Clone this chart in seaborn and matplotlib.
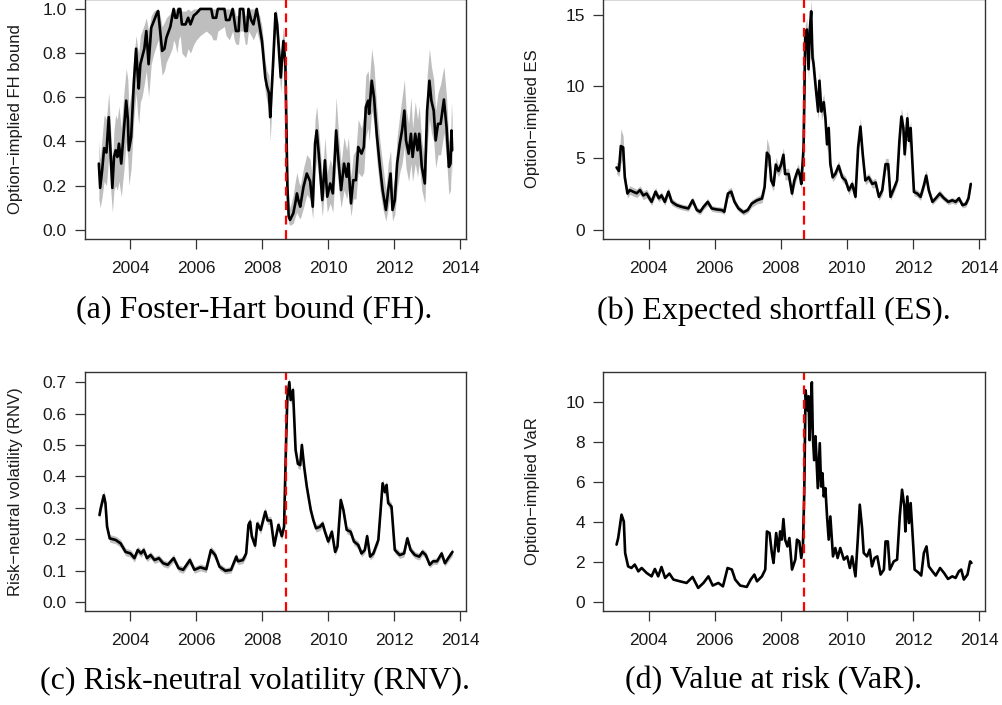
import matplotlib
matplotlib.use("Agg")
import matplotlib.pyplot as plt
import seaborn as sns

# ---- data (decimal years) ----
lehman = 2008.71

t_fh = [
    2003.04, 2003.08, 2003.14, 2003.20, 2003.27, 2003.34, 2003.40, 2003.45, 2003.50, 2003.55,
    2003.60, 2003.65, 2003.72, 2003.80, 2003.87, 2003.92, 2003.95, 2004.02, 2004.10, 2004.17,
    2004.22, 2004.25, 2004.30, 2004.35, 2004.42, 2004.48, 2004.55, 2004.63, 2004.71, 2004.80,
    2004.84, 2004.90, 2004.96, 2005.03, 2005.09, 2005.21, 2005.26, 2005.31, 2005.36, 2005.41,
    2005.46, 2005.51, 2005.56, 2005.67, 2005.75, 2005.82, 2005.92, 2006.00, 2006.12, 2006.30,
    2006.45, 2006.50, 2006.60, 2006.65, 2006.85, 2006.90, 2007.00, 2007.10, 2007.15, 2007.20,
    2007.28, 2007.32, 2007.42, 2007.48, 2007.53, 2007.58, 2007.66, 2007.73, 2007.83, 2007.92,
    2007.99, 2008.09, 2008.14, 2008.20, 2008.24, 2008.32, 2008.40, 2008.45, 2008.49, 2008.56,
    2008.60, 2008.64, 2008.70, 2008.76, 2008.80, 2008.84, 2008.94, 2009.00, 2009.05, 2009.10,
    2009.15, 2009.25, 2009.35, 2009.45, 2009.53, 2009.60, 2009.65, 2009.73, 2009.82, 2009.90,
    2009.97, 2010.06, 2010.14, 2010.24, 2010.31, 2010.39, 2010.48, 2010.56, 2010.61, 2010.69,
    2010.76, 2010.84, 2010.91, 2011.01, 2011.08, 2011.14, 2011.21, 2011.24, 2011.32, 2011.39,
    2011.47, 2011.57, 2011.65, 2011.75, 2011.82, 2011.89, 2011.95, 2012.02, 2012.09, 2012.17,
    2012.24, 2012.31, 2012.36, 2012.44, 2012.51, 2012.56, 2012.64, 2012.71, 2012.76, 2012.84,
    2012.93, 2013.00, 2013.07, 2013.13, 2013.20, 2013.26, 2013.33, 2013.41, 2013.51, 2013.59,
    2013.66, 2013.71, 2013.74, 2013.76,
]
fh = [
    0.30, 0.19, 0.27, 0.37, 0.35, 0.51, 0.33, 0.19, 0.33, 0.36,
    0.33, 0.39, 0.30, 0.45, 0.585, 0.50, 0.36, 0.42, 0.66, 0.82,
    0.70, 0.64, 0.75, 0.78, 0.82, 0.90, 0.75, 0.915, 0.945, 0.98,
    0.99, 0.90, 0.81, 0.82, 0.87, 0.92, 0.96, 1.00, 0.96, 0.96,
    1.00, 1.00, 0.93, 0.93, 0.96, 0.93, 0.97, 0.98, 1.00, 1.00,
    1.00, 0.96, 0.96, 1.00, 1.00, 0.95, 0.95, 1.00, 0.95, 0.90,
    0.90, 1.00, 1.00, 0.90, 0.90, 1.00, 0.95, 0.93, 1.00, 0.92,
    0.855, 0.69, 0.65, 0.62, 0.51, 0.735, 0.98, 0.93, 0.84, 0.69,
    0.78, 0.855, 0.75, 0.20, 0.06, 0.045, 0.075, 0.12, 0.165, 0.13,
    0.105, 0.195, 0.255, 0.22, 0.105, 0.39, 0.45, 0.315, 0.135, 0.315,
    0.15, 0.21, 0.165, 0.45, 0.315, 0.18, 0.30, 0.24, 0.30, 0.12,
    0.225, 0.225, 0.375, 0.345, 0.375, 0.555, 0.585, 0.525, 0.675, 0.60,
    0.435, 0.285, 0.18, 0.09, 0.18, 0.255, 0.09, 0.135, 0.30, 0.39,
    0.45, 0.54, 0.405, 0.345, 0.435, 0.33, 0.435, 0.36, 0.435, 0.285,
    0.21, 0.54, 0.675, 0.585, 0.54, 0.405, 0.48, 0.48, 0.59, 0.465,
    0.285, 0.30, 0.45, 0.36,
]
fh_lo = [
    0.14, 0.10, 0.15, 0.22, 0.20, 0.33, 0.18, 0.08, 0.18, 0.20,
    0.18, 0.22, 0.15, 0.27, 0.40, 0.32, 0.20, 0.28, 0.50, 0.62,
    0.52, 0.48, 0.58, 0.60, 0.66, 0.72, 0.60, 0.75, 0.80, 0.84,
    0.86, 0.78, 0.70, 0.72, 0.76, 0.80, 0.82, 0.86, 0.84, 0.80,
    0.86, 0.88, 0.80, 0.78, 0.82, 0.80, 0.84, 0.86, 0.88, 0.90,
    0.88, 0.86, 0.86, 0.90, 0.92, 0.88, 0.86, 0.90, 0.86, 0.84,
    0.84, 0.90, 0.90, 0.84, 0.84, 0.90, 0.88, 0.86, 0.90, 0.85,
    0.80, 0.62, 0.58, 0.55, 0.40, 0.66, 0.90, 0.86, 0.76, 0.62,
    0.70, 0.78, 0.66, 0.12, 0.03, 0.02, 0.03, 0.06, 0.08, 0.06,
    0.05, 0.10, 0.16, 0.14, 0.05, 0.26, 0.32, 0.20, 0.06, 0.20,
    0.08, 0.12, 0.08, 0.32, 0.20, 0.10, 0.18, 0.14, 0.18, 0.06,
    0.14, 0.14, 0.26, 0.24, 0.26, 0.42, 0.46, 0.40, 0.54, 0.48,
    0.32, 0.18, 0.10, 0.04, 0.10, 0.16, 0.04, 0.07, 0.18, 0.26,
    0.30, 0.38, 0.28, 0.22, 0.30, 0.22, 0.30, 0.24, 0.30, 0.18,
    0.12, 0.38, 0.50, 0.44, 0.40, 0.28, 0.34, 0.34, 0.44, 0.32,
    0.16, 0.18, 0.32, 0.24,
]
fh_hi = [
    0.40, 0.32, 0.42, 0.52, 0.50, 0.62, 0.45, 0.30, 0.45, 0.52,
    0.50, 0.56, 0.46, 0.62, 0.73, 0.68, 0.55, 0.62, 0.78, 0.88,
    0.82, 0.80, 0.88, 0.90, 0.93, 0.96, 0.90, 0.97, 0.99, 1.00,
    1.00, 0.97, 0.92, 0.94, 0.96, 0.98, 1.00, 1.00, 1.00, 1.00,
    1.00, 1.00, 0.99, 0.99, 1.00, 0.99, 1.00, 1.00, 1.00, 1.00,
    1.00, 1.00, 1.00, 1.00, 1.00, 1.00, 1.00, 1.00, 1.00, 0.97,
    0.97, 1.00, 1.00, 0.97, 0.97, 1.00, 1.00, 1.00, 1.00, 0.97,
    0.92, 0.76, 0.72, 0.70, 0.58, 0.80, 1.00, 0.98, 0.90, 0.76,
    0.86, 0.92, 0.82, 0.30, 0.14, 0.10, 0.16, 0.22, 0.26, 0.22,
    0.20, 0.28, 0.34, 0.32, 0.22, 0.50, 0.56, 0.42, 0.24, 0.42,
    0.26, 0.32, 0.28, 0.60, 0.44, 0.30, 0.42, 0.36, 0.42, 0.24,
    0.34, 0.36, 0.50, 0.46, 0.52, 0.70, 0.72, 0.66, 0.82, 0.74,
    0.56, 0.40, 0.30, 0.18, 0.30, 0.36, 0.18, 0.24, 0.42, 0.52,
    0.60, 0.68, 0.55, 0.48, 0.60, 0.46, 0.58, 0.50, 0.56, 0.40,
    0.32, 0.70, 0.82, 0.74, 0.68, 0.54, 0.62, 0.66, 0.74, 0.60,
    0.40, 0.42, 0.58, 0.50,
]

t_es = [
    2003.03, 2003.10, 2003.16, 2003.23, 2003.28, 2003.36, 2003.43, 2003.53, 2003.64, 2003.74,
    2003.84, 2003.94, 2004.09, 2004.21, 2004.31, 2004.39, 2004.49, 2004.60, 2004.70, 2004.85,
    2005.00, 2005.20, 2005.33, 2005.46, 2005.56, 2005.66, 2005.79, 2005.91, 2006.06, 2006.21,
    2006.29, 2006.40, 2006.50, 2006.60, 2006.72, 2006.87, 2007.00, 2007.12, 2007.28, 2007.43,
    2007.51, 2007.58, 2007.65, 2007.71, 2007.78, 2007.85, 2007.93, 2008.01, 2008.08, 2008.13,
    2008.24, 2008.34, 2008.41, 2008.52, 2008.58, 2008.62, 2008.69, 2008.74, 2008.79, 2008.84,
    2008.88, 2008.92, 2008.96, 2008.99, 2009.05, 2009.13, 2009.17, 2009.23, 2009.30, 2009.35,
    2009.40, 2009.45, 2009.50, 2009.57, 2009.65, 2009.75, 2009.86, 2009.96, 2010.06, 2010.16,
    2010.26, 2010.34, 2010.41, 2010.48, 2010.56, 2010.66, 2010.77, 2010.87, 2010.97, 2011.07,
    2011.17, 2011.25, 2011.32, 2011.42, 2011.52, 2011.59, 2011.65, 2011.71, 2011.75, 2011.83,
    2011.88, 2011.93, 2011.98, 2012.03, 2012.13, 2012.23, 2012.33, 2012.40, 2012.48, 2012.59,
    2012.69, 2012.81, 2012.94, 2013.07, 2013.19, 2013.29, 2013.39, 2013.50, 2013.60, 2013.68,
    2013.75,
]
es = [
    4.35, 4.10, 5.84, 5.75, 3.66, 2.53, 2.77, 2.66, 2.55, 2.77,
    2.40, 2.53, 1.95, 2.66, 2.20, 2.40, 1.95, 2.66, 1.95, 1.72,
    1.60, 1.49, 2.06, 1.38, 1.26, 1.60, 1.95, 1.49, 1.42, 1.38,
    1.26, 2.53, 2.66, 1.95, 1.49, 1.22, 1.38, 1.83, 2.06, 2.18,
    2.98, 5.38, 5.15, 3.44, 3.10, 4.55, 4.10, 4.55, 5.23, 3.89,
    3.89, 2.53, 3.44, 4.20, 3.80, 3.20, 5.73, 13.5, 13.97, 11.2,
    14.0, 15.24, 12.0, 11.6, 10.1, 8.25, 10.4, 8.25, 8.90, 7.80,
    5.96, 7.10, 4.58, 3.66, 3.90, 4.47, 3.66, 3.44, 2.75, 3.20,
    2.30, 5.73, 7.20, 5.27, 3.44, 3.66, 3.20, 3.30, 2.30, 2.75,
    4.58, 4.58, 2.30, 2.86, 3.44, 6.20, 7.90, 7.10, 5.27, 7.78,
    6.20, 7.10, 4.80, 2.64, 2.53, 2.30, 3.10, 3.78, 2.75, 1.95,
    2.20, 2.53, 2.20, 1.95, 2.06, 1.95, 2.20, 1.72, 1.80, 2.20,
    3.20,
]
es_hw = [
    0.4, 0.4, 1.2, 0.8, 0.4, 0.3, 0.3, 0.3, 0.3, 0.3,
    0.3, 0.3, 0.25, 0.3, 0.25, 0.25, 0.25, 0.3, 0.25, 0.2,
    0.2, 0.2, 0.25, 0.2, 0.2, 0.2, 0.25, 0.2, 0.2, 0.2,
    0.2, 0.3, 0.3, 0.25, 0.2, 0.2, 0.2, 0.25, 0.25, 0.3,
    0.4, 1.0, 0.6, 0.4, 0.4, 0.5, 0.4, 0.5, 0.5, 0.4,
    0.4, 0.3, 0.4, 0.4, 0.4, 0.4, 0.6, 0.8, 0.8, 0.8,
    0.8, 0.8, 0.8, 0.8, 0.7, 0.6, 0.7, 0.6, 0.6, 0.5,
    0.5, 0.5, 0.4, 0.3, 0.3, 0.35, 0.3, 0.3, 0.3, 0.3,
    0.25, 0.5, 0.6, 0.4, 0.3, 0.3, 0.3, 0.3, 0.25, 0.3,
    0.4, 0.4, 0.25, 0.3, 0.3, 0.5, 0.6, 0.6, 0.5, 0.6,
    0.5, 0.5, 0.4, 0.25, 0.25, 0.25, 0.3, 0.4, 0.3, 0.2,
    0.2, 0.25, 0.2, 0.2, 0.2, 0.2, 0.2, 0.2, 0.2, 0.2,
    0.3,
]

t_rnv = [
    2003.06, 2003.10, 2003.19, 2003.24, 2003.29, 2003.37, 2003.55, 2003.70, 2003.85, 2004.00,
    2004.12, 2004.22, 2004.32, 2004.40, 2004.50, 2004.61, 2004.73, 2004.86, 2004.99, 2005.13,
    2005.31, 2005.46, 2005.60, 2005.80, 2005.94, 2006.12, 2006.30, 2006.44, 2006.57, 2006.70,
    2006.88, 2007.05, 2007.21, 2007.26, 2007.41, 2007.51, 2007.58, 2007.63, 2007.68, 2007.78,
    2007.85, 2007.95, 2008.09, 2008.16, 2008.26, 2008.36, 2008.49, 2008.59, 2008.66, 2008.72,
    2008.76, 2008.82, 2008.86, 2008.93, 2008.97, 2009.01, 2009.08, 2009.15, 2009.20, 2009.27,
    2009.35, 2009.47, 2009.55, 2009.63, 2009.75, 2009.83, 2009.90, 2010.00, 2010.11, 2010.21,
    2010.28, 2010.38, 2010.46, 2010.56, 2010.68, 2010.78, 2010.91, 2011.01, 2011.11, 2011.18,
    2011.27, 2011.37, 2011.52, 2011.59, 2011.65, 2011.72, 2011.77, 2011.82, 2011.92, 2012.02,
    2012.17, 2012.30, 2012.40, 2012.50, 2012.63, 2012.76, 2012.86, 2012.96, 2013.08, 2013.18,
    2013.30, 2013.44, 2013.54, 2013.64, 2013.77,
]
rnv = [
    0.277, 0.300, 0.340, 0.315, 0.240, 0.203, 0.198, 0.187, 0.160, 0.155,
    0.140, 0.166, 0.155, 0.166, 0.140, 0.150, 0.134, 0.140, 0.124, 0.119,
    0.140, 0.108, 0.103, 0.134, 0.103, 0.111, 0.105, 0.166, 0.150, 0.113,
    0.100, 0.103, 0.145, 0.130, 0.134, 0.155, 0.246, 0.256, 0.210, 0.180,
    0.250, 0.230, 0.288, 0.260, 0.260, 0.180, 0.246, 0.210, 0.240, 0.505,
    0.653, 0.700, 0.643, 0.675, 0.580, 0.484, 0.440, 0.436, 0.500, 0.430,
    0.367, 0.293, 0.260, 0.235, 0.240, 0.250, 0.224, 0.193, 0.224, 0.160,
    0.177, 0.325, 0.293, 0.230, 0.224, 0.193, 0.182, 0.155, 0.166, 0.210,
    0.145, 0.155, 0.198, 0.293, 0.378, 0.350, 0.373, 0.315, 0.304, 0.166,
    0.150, 0.155, 0.203, 0.166, 0.150, 0.145, 0.160, 0.150, 0.119, 0.130,
    0.130, 0.155, 0.124, 0.140, 0.160,
]
rnv_hw = [
    0.012, 0.012, 0.015, 0.013, 0.012, 0.012, 0.012, 0.012, 0.012, 0.012,
    0.012, 0.012, 0.012, 0.012, 0.011, 0.011, 0.011, 0.011, 0.011, 0.011,
    0.012, 0.011, 0.011, 0.012, 0.011, 0.011, 0.011, 0.012, 0.012, 0.011,
    0.010, 0.010, 0.012, 0.011, 0.011, 0.012, 0.014, 0.014, 0.013, 0.012,
    0.013, 0.013, 0.014, 0.013, 0.013, 0.012, 0.013, 0.012, 0.013, 0.015,
    0.015, 0.015, 0.015, 0.015, 0.015, 0.014, 0.014, 0.014, 0.014, 0.014,
    0.013, 0.013, 0.012, 0.012, 0.012, 0.012, 0.012, 0.012, 0.012, 0.011,
    0.011, 0.013, 0.013, 0.012, 0.012, 0.012, 0.012, 0.011, 0.011, 0.012,
    0.011, 0.011, 0.012, 0.013, 0.014, 0.014, 0.014, 0.013, 0.013, 0.011,
    0.011, 0.011, 0.012, 0.011, 0.011, 0.011, 0.011, 0.011, 0.010, 0.010,
    0.010, 0.011, 0.010, 0.011, 0.012,
]

t_var = [
    2003.03, 2003.08, 2003.18, 2003.25, 2003.29, 2003.38, 2003.48, 2003.58, 2003.69, 2003.79,
    2003.94, 2004.09, 2004.19, 2004.29, 2004.39, 2004.50, 2004.63, 2004.75, 2004.95, 2005.15,
    2005.33, 2005.50, 2005.66, 2005.81, 2005.94, 2006.11, 2006.25, 2006.39, 2006.52, 2006.62,
    2006.77, 2006.97, 2007.09, 2007.20, 2007.28, 2007.43, 2007.53, 2007.58, 2007.66, 2007.73,
    2007.78, 2007.86, 2007.93, 2007.98, 2008.03, 2008.08, 2008.13, 2008.20, 2008.26, 2008.34,
    2008.44, 2008.49, 2008.56, 2008.62, 2008.67, 2008.71, 2008.75, 2008.81, 2008.84, 2008.87,
    2008.91, 2008.94, 2008.97, 2009.01, 2009.05, 2009.12, 2009.18, 2009.22, 2009.26, 2009.30,
    2009.35, 2009.40, 2009.45, 2009.50, 2009.58, 2009.65, 2009.72, 2009.80, 2009.91, 2010.01,
    2010.09, 2010.16, 2010.26, 2010.33, 2010.39, 2010.46, 2010.51, 2010.61, 2010.69, 2010.76,
    2010.84, 2010.92, 2011.02, 2011.12, 2011.17, 2011.24, 2011.30, 2011.42, 2011.52, 2011.60,
    2011.67, 2011.74, 2011.77, 2011.83, 2011.88, 2011.93, 2012.01, 2012.05, 2012.18, 2012.25,
    2012.33, 2012.41, 2012.48, 2012.59, 2012.69, 2012.82, 2012.94, 2013.06, 2013.19, 2013.29,
    2013.39, 2013.46, 2013.54, 2013.65, 2013.73, 2013.77,
]
var = [
    2.87, 3.20, 4.37, 4.03, 2.45, 1.78, 1.70, 1.87, 1.53, 1.70,
    1.45, 1.28, 1.65, 1.28, 1.75, 1.20, 1.42, 1.12, 1.03, 0.95,
    1.25, 0.70, 0.95, 1.28, 0.82, 0.95, 0.78, 1.70, 1.62, 1.12,
    0.82, 0.75, 1.12, 1.37, 1.03, 1.28, 1.62, 3.53, 3.45, 2.45,
    1.95, 3.45, 2.53, 3.53, 3.12, 4.15, 3.12, 2.78, 3.20, 1.62,
    2.12, 3.12, 3.03, 2.20, 2.78, 5.45, 10.6, 9.60, 10.3, 8.10,
    9.95, 11.0, 8.30, 7.10, 8.30, 5.70, 7.95, 5.78, 6.45, 5.28,
    5.70, 4.28, 3.12, 4.28, 2.28, 2.70, 2.20, 2.70, 2.12, 2.28,
    1.70, 2.28, 1.28, 3.12, 4.87, 3.70, 2.45, 2.28, 2.62, 1.78,
    2.20, 2.28, 1.37, 1.62, 3.03, 3.03, 1.62, 2.03, 2.12, 4.28,
    5.62, 4.78, 3.53, 5.28, 3.95, 4.95, 2.78, 1.62, 1.45, 1.32,
    2.45, 2.78, 1.78, 1.53, 1.32, 1.70, 1.45, 1.15, 1.28, 1.20,
    1.53, 1.62, 1.12, 1.37, 2.03, 1.95,
]

x_ticks = [2004, 2006, 2008, 2010, 2012, 2014]

# ---- style ----
sns.set_style("ticks")
plt.rcParams["font.family"] = ["Liberation Sans", "DejaVu Sans"]

W, H = 1002, 705
fig = plt.figure(figsize=(W / 100, H / 100), dpi=100)

edge = "#333333"


def make_panel(rect_px, t, v, lo, hi, ylim, yticks, yfmt, ylabel, caption, cap_xy):
    x0, y0, x1, y1 = rect_px
    ax = fig.add_axes([x0 / W, 1 - y1 / H, (x1 - x0) / W, (y1 - y0) / H])
    if lo is not None:
        ax.fill_between(t, lo, hi, color="#bebebe", linewidth=0)
    sns.lineplot(x=t, y=v, ax=ax, color="black", linewidth=1.9,
                 estimator=None, sort=False)
    ax.axvline(lehman, color="red", linestyle=(0, (4, 2.5)), linewidth=1.6)
    ax.set_xlim(2002.62, 2014.18)
    ax.set_ylim(*ylim)
    ax.set_xticks(x_ticks)
    ax.set_xticklabels([str(x) for x in x_ticks])
    ax.set_yticks(yticks)
    ax.set_yticklabels([yfmt.format(y) for y in yticks])
    ax.tick_params(direction="out", length=7, width=0.9, color=edge,
                   labelsize=12.5, labelcolor="#1a1a1a")
    ax.tick_params(axis="y", pad=6)
    ax.tick_params(axis="x", pad=9)
    for s in ax.spines.values():
        s.set_color(edge)
        s.set_linewidth(1.0)
    ax.set_xlabel("")
    ax.set_ylabel(ylabel, fontsize=12, color="#1a1a1a", va="center")
    ax.yaxis.set_label_coords(-70 / (x1 - x0), 0.5)
    fig.text(cap_xy[0] / W, 1 - cap_xy[1] / H, caption, ha="center", va="center",
             fontsize=23, color="black", family=["Liberation Serif", "DejaVu Serif"])
    return ax


make_panel((85, -1, 466, 238.7), t_fh, fh, fh_lo, fh_hi, (-0.04, 1.045),
           [0.0, 0.2, 0.4, 0.6, 0.8, 1.0], "{:.1f}",
           "Option\u2212implied FH bound", "(a) Foster-Hart bound (FH).", (254, 311))

make_panel((603, -1, 985, 238.7), t_es, es,
           [a - b for a, b in zip(es, es_hw)], [a + b for a, b in zip(es, es_hw)],
           (-0.62, 16.1), [0, 5, 10, 15], "{:d}",
           "Option\u2212implied ES", "(b) Expected shortfall (ES).", (774, 311))

make_panel((85, 371.7, 466, 610.7), t_rnv, rnv,
           [a - b for a, b in zip(rnv, rnv_hw)], [a + b for a, b in zip(rnv, rnv_hw)],
           (-0.027, 0.733), [0.0, 0.1, 0.2, 0.3, 0.4, 0.5, 0.6, 0.7], "{:.1f}",
           "Risk\u2212neutral volatility (RNV)", "(c) Risk-neutral volatility (RNV).", (255, 681))

make_panel((603, 371.7, 985, 610.7), t_var, var, None, None,
           (-0.44, 11.53), [0, 2, 4, 6, 8, 10], "{:d}",
           "Option\u2212implied VaR", "(d) Value at risk (VaR).", (774, 681))

fig.savefig("out.png", dpi=100)
